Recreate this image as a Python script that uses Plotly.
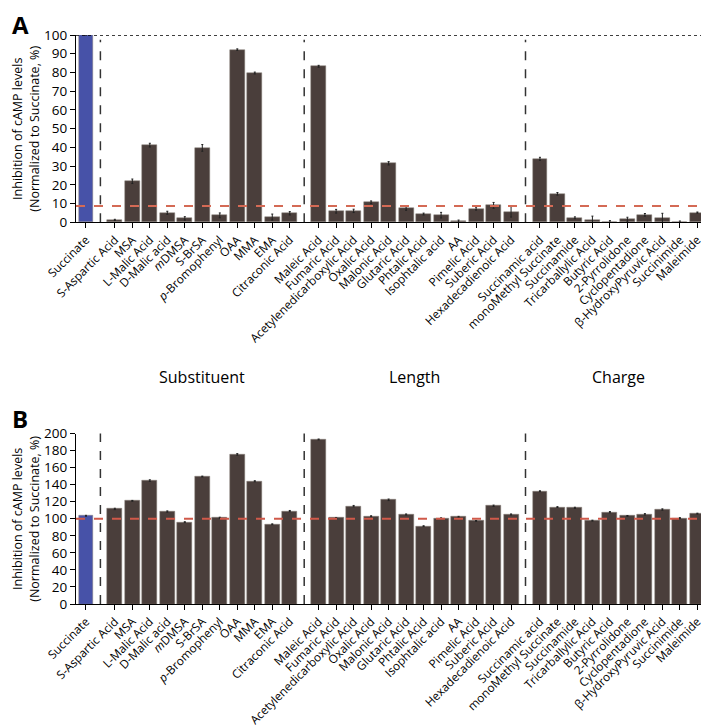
import plotly.graph_objects as go

# ── data ─────────────────────────────────────────────────────────────

control = ["Succinate"]
substituent = [
    "S-Aspartic Acid", "MSA", "L-Malic Acid", "D-Malic acid", "<i>m</i>DMSA",
    "S-BrSA", "<i>p</i>-Bromophenyl", "OAA", "MMA", "EMA", "Citraconic Acid",
]
length = [
    "Maleic Acid", "Fumaric Acid", "Acetylenedicarboxylic Acid", "Oxalic Acid",
    "Malonic Acid", "Glutaric Acid", "Phtalic Acid", "Isophtalic acid", "AA",
    "Pimelic Acid", "Suberic Acid", "Hexadecadienoic Acid",
]
charge = [
    "Succinamic acid", "monoMethyl Succinate", "Succinamide", "Tricarballylic Acid",
    "Butyric Acid", "2-Pyrrolidone", "Cyclopentadione", "β-HydroxyPyruvic Acid",
    "Succinimide", "Maleimide",
]
group_names = ["Substituent", "Length", "Charge"]

# panel A: inhibition (% of succinate)
inhib_a = [
    100,
    1.3, 21.9, 41.2, 5.1, 2.1, 39.7, 3.7, 92.2, 79.7, 2.8, 4.8,
    83.3, 5.9, 6.1, 10.7, 31.5, 7.4, 4.4, 3.8, 0.6, 7.3, 9.0, 5.6,
    33.9, 15.2, 2.4, 1.3, 0.4, 1.5, 4.0, 2.3, 0.1, 5.2,
]
err_a = [
    0,
    0.3, 1.2, 1.0, 0.8, 0.9, 1.8, 1.3, 0.4, 0.5, 1.6, 0.9,
    0.5, 1.0, 0.9, 0.7, 0.9, 1.0, 0.5, 1.5, 0.6, 0.8, 1.6, 2.8,
    0.8, 0.7, 0.5, 2.0, 0.5, 1.2, 0.7, 2.5, 0.6, 0.3,
]
# panel B
inhib_b = [
    103.5,
    111.5, 121.0, 144.8, 108.5, 96.0, 149.5, 101.2, 175.5, 144.0, 93.5, 109.0,
    193.0, 101.0, 114.8, 103.0, 122.2, 105.0, 91.3, 100.6, 102.2, 97.5, 115.2, 105.0,
    132.3, 113.7, 112.8, 97.8, 107.7, 103.3, 105.2, 110.8, 100.8, 106.0,
]
err_b = [
    0.5,
    0.8, 0.5, 0.9, 0.7, 0.5, 0.5, 0.6, 0.9, 0.6, 0.5, 0.7,
    0.5, 0.5, 0.8, 0.5, 0.9, 0.6, 0.5, 0.5, 0.6, 0.5, 0.8, 0.6,
    0.5, 0.5, 0.7, 0.5, 0.7, 0.5, 0.8, 0.8, 0.5, 0.5,
]
threshold_a = 8.7
threshold_b = 100

# ── positions ────────────────────────────────────────────────────────

GAP = 1.65
labels, xpos, dividers, group_mid = [], [], [], []
x = 0.0
for gi, grp in enumerate([control, substituent, length, charge]):
    if gi > 0:
        x += GAP
        dividers.append(x - GAP / 2)
    start = x
    for name in grp:
        labels.append(name)
        xpos.append(x)
        x += 1
    x -= 1
    if gi > 0:
        group_mid.append((start + x) / 2)

colors = ["#4752a8"] + ["#4a3e3b"] * (len(labels) - 1)
FONT = "Open Sans"
XR = [-0.57, xpos[-1] + 0.95]

fig = go.Figure()
for vals, errs, xa, ya in [(inhib_a, err_a, "x", "y"), (inhib_b, err_b, "x2", "y2")]:
    fig.add_trace(go.Bar(
        x=xpos, y=vals, xaxis=xa, yaxis=ya, width=0.85,
        marker=dict(color=colors, line=dict(color="#8a807c", width=0.5)),
        error_y=dict(type="data", array=errs, symmetric=True, color="#222",
                     thickness=1, width=1),
        showlegend=False, hoverinfo="x+y",
    ))

# reference lines
fig.add_shape(type="line", xref="x", yref="y", x0=XR[0], x1=XR[1] - 0.15, y0=100, y1=100,
              line=dict(color="black", width=1.5, dash="dot"))
fig.add_shape(type="line", xref="x", yref="y", x0=XR[0], x1=XR[1], y0=threshold_a, y1=threshold_a,
              line=dict(color="#d46a55", width=2.2, dash="dash"))
fig.add_shape(type="line", xref="x2", yref="y2", x0=XR[0], x1=XR[1], y0=threshold_b, y1=threshold_b,
              line=dict(color="#d0594a", width=2.2, dash="dash"))
for d in dividers:
    fig.add_shape(type="line", xref="x", yref="y", x0=d, x1=d, y0=0, y1=97.5,
                  line=dict(color="#333", width=1.5, dash="dash"))
    fig.add_shape(type="line", xref="x2", yref="y2", x0=d, x1=d, y0=0, y1=201,
                  line=dict(color="#333", width=1.5, dash="dash"))

axis_common = dict(showline=True, linecolor="black", linewidth=1.3, ticks="outside",
                   ticklen=5, tickcolor="black", showgrid=False, zeroline=False,
                   automargin=False)
xcommon = dict(axis_common, range=XR, tickmode="array", tickvals=xpos, ticktext=labels,
               tickangle=-45, tickfont=dict(family=FONT, size=11.8, color="black"))

fig.update_layout(
    width=709, height=726,
    margin=dict(l=68, r=3, t=0, b=0),
    paper_bgcolor="white", plot_bgcolor="white",
    font=dict(family=FONT, color="black"),
    bargap=0,
    xaxis=dict(xcommon, domain=[0, 1], anchor="y"),
    yaxis=dict(axis_common, domain=[1 - 214.3 / 726, 1 - 27 / 726], range=[0, 100],
               dtick=10, tickfont=dict(family=FONT, size=13.5), anchor="x"),
    xaxis2=dict(xcommon, domain=[0, 1], anchor="y2"),
    yaxis2=dict(axis_common, domain=[1 - 596 / 726, 1 - 425.5 / 726], range=[0, 200],
                dtick=20, tickfont=dict(family=FONT, size=13.5), anchor="x2"),
)

ytitle = "Inhibition of cAMP levels<br>(Normalized to Succinate, %)"
for yref, ymid in [("y", 50), ("y2", 100)]:
    fig.add_annotation(text=ytitle, xref="paper", yref=yref, x=0, y=ymid, xshift=-50,
                       textangle=-90, showarrow=False, xanchor="center", yanchor="middle",
                       font=dict(family=FONT, size=12.5))
for txt, py in [("A", 17), ("B", 410)]:
    fig.add_annotation(text=f"<b>{txt}</b>", xref="paper", yref="paper", x=-66 / 638,
                       y=1 - py / 726, xanchor="left", yanchor="middle", showarrow=False,
                       font=dict(family=FONT, size=24))
for name, gx in zip(group_names, group_mid):
    fig.add_annotation(text=name, xref="x", yref="paper", x=gx, y=1 - 369 / 726,
                       showarrow=False, xanchor="center", yanchor="middle",
                       font=dict(family=FONT, size=16))

fig.write_html("out.html")
